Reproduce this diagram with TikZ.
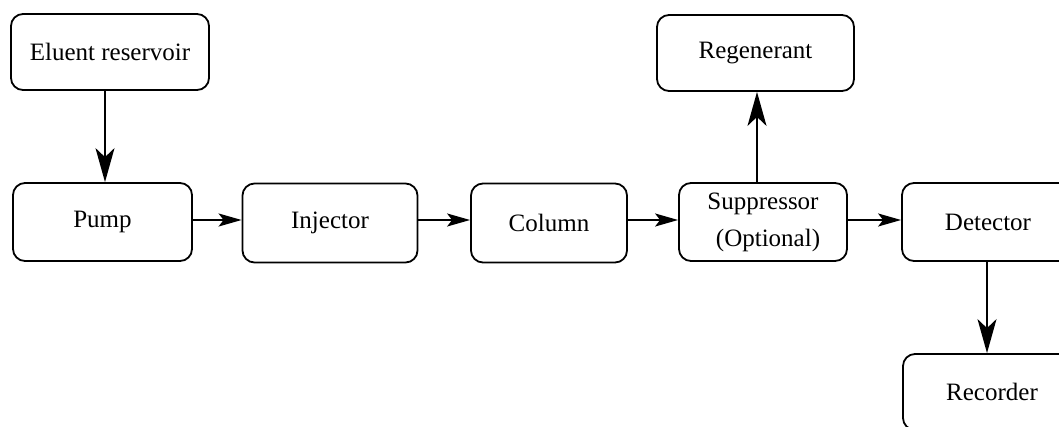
\documentclass[tikz,border=0pt]{standalone}
\usepackage{fontspec}
\setmainfont{Liberation Serif}
\usetikzlibrary{arrows.meta}
\begin{document}
\begin{tikzpicture}[x=1pt,y=-1pt,
  box/.style={draw,line width=1.8pt,rounded corners=12pt,font=\fontsize{25}{37}\selectfont,align=center,inner sep=0pt},
  vflow/.style={line width=1.7pt,-{Stealth[length=34pt,width=19pt,inset=9pt]}},
  hflow/.style={line width=1.7pt,-{Stealth[length=23pt,width=13pt,inset=5pt]}}]
\useasboundingbox (0,0) rectangle (1059,426);
\clip (0,0) rectangle (1059,426);
\node[box,minimum width=198pt,minimum height=76pt] (elu) at (110,52) {Eluent reservoir};
\node[box,minimum width=179pt,minimum height=78pt] (pump) at (102.5,222) {Pump};
\node[box,minimum width=175pt,minimum height=79pt] (inj) at (330,223) {Injector};
\node[box,minimum width=156pt,minimum height=79pt] (col) at (549,223) {Column};
\node[box,minimum width=168pt,minimum height=78pt] (sup) at (763,222) {Suppressor\\\hspace*{0.4em}(Optional)};
\node[box,minimum width=172pt,minimum height=78pt] (det) at (988,222) {Detector};
\node[box,minimum width=197pt,minimum height=76pt] (reg) at (755.5,53) {Regenerant};
\node[box,minimum width=178pt,minimum height=76pt] (rec) at (992,392) {Recorder};
\coordinate (xa) at (105,0);
\coordinate (xb) at (757,0);
\coordinate (xc) at (987,0);
\coordinate (yh) at (0,220);
\draw[vflow] (elu.south -| xa) -- (pump.north -| xa);
\draw[hflow] (pump.east |- yh) -- (inj.west |- yh);
\draw[hflow] (inj.east |- yh) -- (col.west |- yh);
\draw[hflow] (col.east |- yh) -- (sup.west |- yh);
\draw[hflow] (sup.east |- yh) -- (det.west |- yh);
\draw[vflow] (sup.north -| xb) -- (reg.south -| xb);
\draw[vflow] (det.south -| xc) -- (rec.north -| xc);
\end{tikzpicture}
\end{document}
